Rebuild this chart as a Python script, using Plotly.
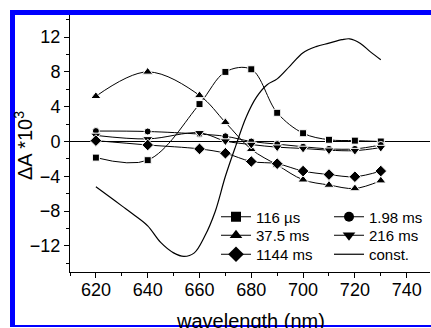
import plotly.graph_objects as go

# ---------------- data ----------------
wavelength = [620, 640, 660, 670, 680, 690, 700, 710, 720, 730]
s_116us = [-1.85, -2.15, 4.3, 8.0, 8.3, 3.3, 0.95, 0.2, 0.1, 0.0]
s_1_98ms = [1.2, 1.15, 0.85, 0.6, 0.0, -0.3, -0.6, -0.85, -0.85, -0.4]
s_37_5ms = [5.2, 8.0, 5.3, 2.2, -0.9, -2.7, -4.4, -5.0, -5.4, -4.5]
s_216ms = [0.7, 0.3, 1.0, 0.05, -0.35, -0.65, -0.8, -1.0, -1.05, -0.7]
s_1144ms = [0.1, -0.4, -0.85, -1.35, -2.3, -2.55, -3.4, -3.8, -4.05, -3.4]

const_wl = [620, 625, 630, 635, 640, 645, 650, 654, 658, 662, 666, 670, 674,
            678, 682, 686, 690, 695, 700, 705, 710, 715, 718, 722, 726, 730]
const_val = [-5.2, -6.3, -7.4, -8.5, -9.7, -11.6, -12.8, -13.2, -12.8, -10.9,
             -8.1, -4.0, -0.5, 2.8, 5.1, 6.5, 7.2, 8.7, 10.2, 10.9, 11.3, 11.7,
             11.8, 11.3, 10.3, 9.4]

x_ticks = [620, 640, 660, 680, 700, 720, 740]
y_ticks = [-12, -8, -4, 0, 4, 8, 12]

FONT = "Liberation Sans, Arial, sans-serif"

# plot box in pixels
W, H = 431, 328
L, R, T, B = 70, 430, 11, 272


def px_x(p):
    return (p - L) / (R - L)


def px_y(p):
    return (B - p) / (B - T)


fig = go.Figure()

# name, values, symbol, plot size, legend size, legend id
series = [
    ("116 µs", s_116us, "square", 7, 10, "legend"),
    ("1.98 ms", s_1_98ms, "circle", 7, 10, "legend2"),
    ("37.5 ms", s_37_5ms, "triangle-up", 9, 11, "legend3"),
    ("216 ms", s_216ms, "triangle-down", 9, 11, "legend4"),
    ("1144 ms", s_1144ms, "diamond", 9, 12, "legend5"),
]

fig.add_trace(go.Scatter(
    x=const_wl, y=const_val, mode="lines", name="const.",
    line=dict(color="black", width=1.2, shape="spline", smoothing=1),
    showlegend=False,
))

for name, vals, sym, size, lsize, leg in series:
    fig.add_trace(go.Scatter(
        x=wavelength, y=vals, mode="lines+markers", name=name,
        line=dict(color="black", width=1, shape="spline", smoothing=1),
        marker=dict(symbol=sym, size=size, color="black",
                    line=dict(color="white", width=1)),
        showlegend=False,
    ))

# legend entries (bigger symbols, as in the original legend)
for name, vals, sym, size, lsize, leg in series:
    fig.add_trace(go.Scatter(
        x=[None], y=[None], mode="lines+markers", name=name,
        line=dict(color="black", width=1),
        marker=dict(symbol=sym, size=lsize, color="black"),
        legend=leg,
    ))
fig.add_trace(go.Scatter(
    x=[None], y=[None], mode="lines", name="const.",
    line=dict(color="black", width=1.2), legend="legend6",
))

axis_common = dict(showline=True, linecolor="black", linewidth=1,
                   showgrid=False, tickcolor="black", tickwidth=1)

leg_common = dict(orientation="v", xanchor="left", yanchor="middle",
                  bgcolor="rgba(0,0,0,0)", borderwidth=0,
                  font=dict(family=FONT, size=15, color="black"), itemwidth=30)

col_x = [216, 329]
row_y = [217, 235.5, 254.5]
legends = {}
for i in range(6):
    key = "legend" if i == 0 else f"legend{i + 1}"
    legends[key] = dict(x=px_x(col_x[i % 2]), y=px_y(row_y[i // 2]), **leg_common)

fig.update_layout(
    width=W, height=H,
    margin=dict(l=L, r=W - R, t=T, b=H - B, pad=0),
    paper_bgcolor="white", plot_bgcolor="white",
    font=dict(family=FONT, color="black", size=18),
    xaxis=dict(range=[610, 749], tickvals=x_ticks, ticks="outside", ticklen=5,
               zeroline=False, tickfont=dict(size=18), ticklabelstandoff=-4,
               minor=dict(ticks="outside", ticklen=3, dtick=10, tick0=610,
                          tickcolor="black", showgrid=False),
               **axis_common),
    yaxis=dict(range=[-15, 15], tickvals=y_ticks, ticks="outside", ticklen=5,
               zeroline=True, zerolinecolor="black", zerolinewidth=1,
               tickfont=dict(size=18),
               minor=dict(ticks="outside", ticklen=3, dtick=2, tick0=0,
                          tickcolor="black", showgrid=False),
               **axis_common),
    xaxis2=dict(range=[610, 749], overlaying="x", side="top", anchor="y",
                tickvals=x_ticks, ticks="inside", ticklen=5, showticklabels=False,
                zeroline=False,
                minor=dict(ticks="inside", ticklen=3, dtick=10, tick0=610,
                           tickcolor="black", showgrid=False),
                **axis_common),
    yaxis2=dict(range=[-15, 15], overlaying="y", side="right", anchor="x",
                tickvals=y_ticks, ticks="inside", ticklen=5, showticklabels=False,
                zeroline=False,
                minor=dict(ticks="inside", ticklen=3, dtick=2, tick0=0,
                           tickcolor="black", showgrid=False),
                **axis_common),
    showlegend=True,
    **legends,
)

# axis titles
fig.add_annotation(text="wavelength (nm)", xref="paper", yref="paper",
                   x=0.5, y=px_y(321), xanchor="center", yanchor="middle",
                   showarrow=False, font=dict(family=FONT, size=20, color="black"))
fig.add_annotation(text="ΔA *10<sup>3</sup>", xref="paper", yref="paper",
                   x=px_x(24), y=px_y(146), xanchor="center", yanchor="middle",
                   textangle=-90, showarrow=False,
                   font=dict(family=FONT, size=20, color="black"))

# blue frame
BLUE = "#0000ff"
for (x0, y0, x1, y1) in [(10, 10, 15, 327), (10, 10, 431, 15), (10, 325, 431, 327)]:
    fig.add_shape(type="rect", xref="paper", yref="paper",
                  x0=px_x(x0), x1=px_x(x1), y0=px_y(y0), y1=px_y(y1),
                  fillcolor=BLUE, line=dict(width=0), layer="above")

fig.write_html(
    "out.html",
    config={"displayModeBar": False},
    post_script="document.body.style.margin='0';document.body.style.overflow='hidden';",
)
